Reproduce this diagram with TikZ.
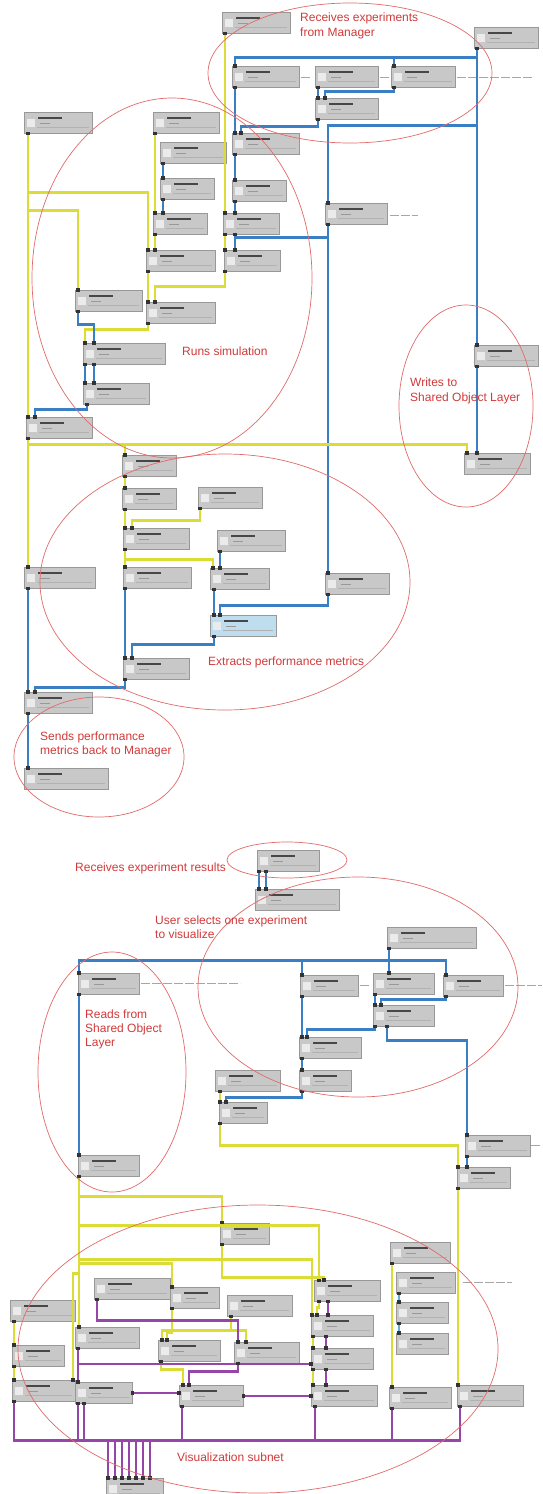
\documentclass[tikz,border=0pt]{standalone}
\usepackage{fontspec}
\setmainfont{Liberation Sans}
\usetikzlibrary{arrows.meta}
\definecolor{wblue}{HTML}{3A7FC4}
\definecolor{wyel}{HTML}{DCDC36}
\definecolor{wpur}{HTML}{9646A8}
\definecolor{wlb}{HTML}{5AB2E4}
\definecolor{annred}{HTML}{D23A3A}
\definecolor{ellred}{HTML}{E26A6A}
\definecolor{modfill}{HTML}{C8C8C8}
\definecolor{modline}{HTML}{989898}
\definecolor{selfill}{HTML}{BEDDEE}
\begin{document}
\begin{tikzpicture}[x=1pt,y=-1pt,
 mod/.style={draw=modline, fill=modfill, line width=0.6pt, minimum height=21pt, inner sep=0pt, anchor=north west,
   path picture={
     \fill[black!72] ([xshift=14pt,yshift=-4.5pt]path picture bounding box.north west) rectangle ++(24pt,-2.2pt);
     \fill[black!40] ([xshift=16pt,yshift=-10.5pt]path picture bounding box.north west) rectangle ++(10pt,-1.6pt);
     \fill[black!8] ([xshift=3pt,yshift=-7pt]path picture bounding box.north west) rectangle ++(8pt,-8pt);
     \draw[black!30,line width=0.4pt] ([xshift=13pt,yshift=-14.5pt]path picture bounding box.north west) -- ([xshift=-3pt,yshift=-14.5pt]path picture bounding box.north east);
   }},
 sel/.style={mod, fill=selfill},
 wire/.style={line width=2.3pt, {Square[length=3.4pt,width=3.8pt,color=black!80]}-{Square[length=3.4pt,width=3.8pt,color=black!80]}, shorten <=-1.7pt, shorten >=-1.7pt},
 bw/.style={wire, draw=wblue},
 yw/.style={wire, draw=wyel},
 pw/.style={wire, draw=wpur},
 lw/.style={wire, draw=wlb},
 ann/.style={text=annred, font=\fontsize{12}{14}\selectfont, inner sep=0pt, anchor=base west},
 ell/.style={draw=ellred, line width=0.7pt},
 lbl/.style={draw=black!35, line width=0.9pt, dash pattern=on 9pt off 2pt},
]
\useasboundingbox (0,0) rectangle (542,1494);
\fill[white] (0,0) rectangle (542,1494);

% ---------------- top network: modules
\node[mod, minimum width=68pt] (A) at (222,12) {};
\node[mod, minimum width=64pt] (B) at (474,27) {};
\node[mod, minimum width=67pt] (C) at (232,66) {};
\node[mod, minimum width=63pt] (D) at (315,66) {};
\node[mod, minimum width=64pt] (E) at (391,66) {};
\node[mod, minimum width=63pt] (F) at (315,98) {};
\node[mod, minimum width=67pt] (G) at (232,133) {};
\node[mod, minimum width=54pt] (H) at (232,180) {};
\node[mod, minimum width=56pt] (I) at (223,213) {};
\node[mod, minimum width=62pt] (J) at (325,203) {};
\node[mod, minimum width=66pt] (K) at (153,112) {};
\node[mod, minimum width=66pt] (L) at (160,142) {};
\node[mod, minimum width=54pt] (M) at (160,178) {};
\node[mod, minimum width=54pt] (N) at (153,213) {};
\node[mod, minimum width=68pt] (O) at (24,112) {};
\node[mod, minimum width=69pt] (P) at (146,250) {};
\node[mod, minimum width=56pt] (Q) at (224,250) {};
\node[mod, minimum width=67pt] (R) at (75,290) {};
\node[mod, minimum width=69pt] (S) at (146,302) {};
\node[mod, minimum width=82pt] (T) at (83,343) {};
\node[mod, minimum width=66pt] (U) at (83,383) {};
\node[mod, minimum width=66pt] (V) at (26,417) {};
\node[mod, minimum width=64pt] (W) at (474,345) {};
\node[mod, minimum width=66pt] (X) at (464,453) {};
\node[mod, minimum width=54pt] (Y) at (122,455) {};
\node[mod, minimum width=54pt] (Y2) at (122,488) {};
\node[mod, minimum width=64pt] (Z) at (198,487) {};
\node[mod, minimum width=66pt] (BB) at (123,528) {};
\node[mod, minimum width=68pt] (CC) at (217,530) {};
\node[mod, minimum width=71pt] (DD) at (24,567) {};
\node[mod, minimum width=68pt] (EE) at (123,567) {};
\node[mod, minimum width=59pt] (FF) at (210,568) {};
\node[mod, minimum width=64pt] (GG) at (325,573) {};
\node[sel, minimum width=66pt] (HH) at (210,615) {};
\node[mod, minimum width=66pt] (II) at (123,658) {};
\node[mod, minimum width=68pt] (JJ) at (24,692) {};
\node[mod, minimum width=84pt] (KK) at (24,768) {};

% small side labels (top)
\draw[lbl] (301,77) -- (312,77);
\draw[lbl] (380,77) -- (389,77);
\draw[lbl] (457,77) -- (533,77);
\draw[lbl] (390,215) -- (418,215);

% ---------------- top network: connections
\draw[yw] ([xshift=4pt]O.south west) -- ([xshift=2pt]V.north west);
\draw[yw] ([xshift=4pt]O.south west) -- ++(0,59) -| ([xshift=2pt]P.north west);
\draw[yw] ([xshift=4pt]O.south west) -- ++(0,77) -| ([xshift=3pt]R.north west);
\draw[yw] ([xshift=2pt]K.south west) -- ([xshift=2pt]N.north west);
\draw[yw] ([xshift=2pt]N.south west) -- ([xshift=9pt]P.north west);
\draw[bw] ([xshift=3pt]L.south west) -- ([xshift=3pt]M.north west);
\draw[bw] ([xshift=3pt]M.south west) -- ([xshift=10pt]N.north west);
\draw[yw] ([xshift=3pt]A.south west) -- ([xshift=2pt]I.north west);
\draw[bw] ([xshift=3pt]B.south west) -- ++(0,9) -| ([xshift=3pt]C.north west);
\draw[bw] ([xshift=3pt]B.south west) -- ++(0,9) -| ([xshift=3pt]E.north west);
\draw[bw] ([xshift=3pt]B.south west) -- ([xshift=3pt]W.north west);
\draw[bw] ([xshift=3pt]B.south west) -- ++(0,77) -| ([xshift=3pt]J.north west);
\draw[bw] ([xshift=3pt]W.south west) -- ([xshift=13pt]X.north west);
\draw[bw] ([xshift=3pt]D.south west) -- ([xshift=3pt]F.north west);
\draw[bw] ([xshift=3pt]E.south west) -- ++(0,4) -| ([xshift=10pt]F.north west);
\draw[bw] ([xshift=3pt]F.south west) -- ++(0,7) -| ([xshift=9pt]G.north west);
\draw[bw] ([xshift=3pt]C.south west) -- ([xshift=3pt]G.north west);
\draw[bw] ([xshift=3pt]G.south west) -- ([xshift=3pt]H.north west);
\draw[bw] ([xshift=3pt]H.south west) -- ([xshift=12pt]I.north west);
\draw[bw] ([xshift=12pt]I.south west) -- ([xshift=11pt]Q.north west);
\draw[yw] ([xshift=2pt]I.south west) -- ([xshift=1pt]Q.north west);
\draw[bw] ([xshift=3pt]J.south west) -- ([xshift=3pt]GG.north west);
\draw[bw] ([xshift=3pt]J.south west) -- ++(0,13) -| ([xshift=11pt]Q.north west);
\draw[yw] ([xshift=2pt]P.south west) -- ([xshift=2pt]S.north west);
\draw[yw] ([xshift=1pt]Q.south west) -- ++(0,15) -| ([xshift=9pt]S.north west);
\draw[yw] ([xshift=2pt]S.south west) -- ++(0,6) -| ([xshift=2pt]T.north west);
\draw[bw] ([xshift=3pt]R.south west) -- ++(0,13) -| ([xshift=11pt]T.north west);
\draw[bw] ([xshift=2pt]T.south west) -- ([xshift=2pt]U.north west);
\draw[bw] ([xshift=11pt]T.south west) -- ([xshift=11pt]U.north west);
\draw[bw] ([xshift=4pt]U.south west) -- ++(0,5) -| ([xshift=9pt]V.north west);
\draw[yw] ([xshift=2pt]V.south west) -- ++(0,6) -| ([xshift=3pt]X.north west);
\draw[yw] ([xshift=2pt]V.south west) -- ++(0,6) -| ([xshift=3pt]Y.north west);
\draw[yw] ([xshift=2pt]V.south west) -- ([xshift=4pt]DD.north west);
\draw[yw] ([xshift=3pt]Y.south west) -- ([xshift=3pt]Y2.north west);
\draw[yw] ([xshift=3pt]Y2.south west) -- ([xshift=2pt]BB.north west);
\draw[yw] ([xshift=2pt]Z.south west) -- ++(0,12) -| ([xshift=9pt]BB.north west);
\draw[yw] ([xshift=2pt]BB.south west) -- ([xshift=2pt]EE.north west);
\draw[yw] ([xshift=2pt]BB.south west) -- ++(0,10) -| ([xshift=3pt]FF.north west);
\draw[bw] ([xshift=3pt]CC.south west) -- ([xshift=10pt]FF.north west);
\draw[bw] ([xshift=4pt]FF.south west) -- ([xshift=4pt]HH.north west);
\draw[bw] ([xshift=3pt]GG.south west) -- ++(0,11) -| ([xshift=10pt]HH.north west);
\draw[bw] ([xshift=4pt]HH.south west) -- ++(0,8) -| ([xshift=9pt]II.north west);
\draw[bw] ([xshift=2pt]EE.south west) -- ([xshift=2pt]II.north west);
\draw[bw] ([xshift=2pt]II.south west) -- ++(0,8) -| ([xshift=11pt]JJ.north west);
\draw[bw] ([xshift=4pt]DD.south west) -- ([xshift=4pt]JJ.north west);
\draw[bw] ([xshift=4pt]JJ.south west) -- ([xshift=4pt]KK.north west);

% ---------------- bottom network: modules
\node[mod, minimum width=62pt] (LL) at (257,850) {};
\node[mod, minimum width=84pt] (MM) at (255,889) {};
\node[mod, minimum width=89pt] (NN) at (387,927) {};
\node[mod, minimum width=61pt] (OO) at (78,973) {};
\node[mod, minimum width=58pt] (PP) at (300,975) {};
\node[mod, minimum width=61pt] (QQ) at (373,973) {};
\node[mod, minimum width=60pt] (RR) at (443,975) {};
\node[mod, minimum width=61pt] (SS) at (373,1005) {};
\node[mod, minimum width=62pt] (TT) at (299,1037) {};
\node[mod, minimum width=52pt] (VV) at (299,1070) {};
\node[mod, minimum width=65pt] (WW) at (215,1070) {};
\node[mod, minimum width=48pt] (XX) at (219,1102) {};
\node[mod, minimum width=65pt] (UU) at (465,1135) {};
\node[mod, minimum width=53pt] (ZZ) at (457,1167) {};
\node[mod, minimum width=61pt] (AAA) at (78,1155) {};
\node[mod, minimum width=49pt] (BBB) at (220,1223) {};
\node[mod, minimum width=60pt] (CCC) at (390,1242) {};
\node[mod, minimum width=76pt] (DDD) at (94,1278) {};
\node[mod, minimum width=49pt] (EEE) at (170,1287) {};
\node[mod, minimum width=65pt] (FFF) at (227,1295) {};
\node[mod, minimum width=66pt] (GGG) at (314,1280) {};
\node[mod, minimum width=59pt] (HHH) at (396,1272) {};
\node[mod, minimum width=65pt] (III) at (10,1300) {};
\node[mod, minimum width=64pt] (JJJ) at (75,1327) {};
\node[mod, minimum width=62pt] (KKK) at (311,1315) {};
\node[mod, minimum width=52pt] (LLL) at (396,1302) {};
\node[mod, minimum width=52pt] (MMM) at (12,1345) {};
\node[mod, minimum width=62pt] (NNN) at (158,1340) {};
\node[mod, minimum width=65pt] (OOO) at (234,1342) {};
\node[mod, minimum width=62pt] (PPP) at (311,1348) {};
\node[mod, minimum width=52pt] (QQQ) at (396,1333) {};
\node[mod, minimum width=63pt] (RRR) at (12,1380) {};
\node[mod, minimum width=57pt] (SSS) at (75,1382) {};
\node[mod, minimum width=64pt] (TTT) at (179,1385) {};
\node[mod, minimum width=66pt] (UUU) at (311,1385) {};
\node[mod, minimum width=62pt] (VVV) at (389,1387) {};
\node[mod, minimum width=66pt] (WWW) at (457,1385) {};
\node[mod, minimum width=57pt, minimum height=16pt] (XXX) at (106,1478) {};

% small side labels (bottom)
\draw[lbl] (141,983) -- (240,983);
\draw[lbl] (360,985) -- (369,985);
\draw[lbl] (505,985) -- (542,985);
\draw[lbl] (531,1145) -- (542,1145);
\draw[lbl] (463,1282) -- (512,1282);

% ---------------- bottom network: connections
\draw[bw] ([xshift=2pt]LL.south west) -- ([xshift=4pt]MM.north west);
\draw[bw] ([xshift=9pt]LL.south west) -- ([xshift=11pt]MM.north west);
\draw[bw] ([xshift=2pt]NN.south west) -- ([xshift=16pt]QQ.north west);
\draw[bw] ([xshift=2pt]NN.south west) -- ++(0,12) -| ([xshift=1pt]OO.north west);
\draw[bw] ([xshift=2pt]NN.south west) -- ++(0,12) -| ([xshift=2pt]PP.north west);
\draw[bw] ([xshift=2pt]NN.south west) -- ++(0,12) -| ([xshift=3pt]RR.north west);
\draw[bw] ([xshift=2pt]QQ.south west) -- ([xshift=2pt]SS.north west);
\draw[bw] ([xshift=3pt]RR.south west) -- ++(0,3) -| ([xshift=8pt]SS.north west);
\draw[bw] ([xshift=2pt]PP.south west) -- ([xshift=3pt]TT.north west);
\draw[bw] ([xshift=2pt]SS.south west) -- ++(0,3) -| ([xshift=8pt]TT.north west);
\draw[bw] ([xshift=14pt]SS.south west) -- ++(0,14) -| ([xshift=2pt]UU.north west);
\draw[bw] ([xshift=3pt]TT.south west) -- ([xshift=3pt]VV.north west);
\draw[bw] ([xshift=3pt]VV.south west) -- ++(0,6) -| ([xshift=7pt]XX.north west);
\draw[yw] ([xshift=5pt]WW.south west) -- ([xshift=1pt]XX.north west);
\draw[yw] ([xshift=1pt]XX.south west) -- ++(0,22) -| ([xshift=1pt]ZZ.north west);
\draw[bw] ([xshift=2pt]UU.south west) -- ([xshift=10pt]ZZ.north west);
\draw[bw] ([xshift=1pt]OO.south west) -- ([xshift=1pt]AAA.north west);

\draw[yw] ([xshift=1pt]AAA.south west) -- ++(0,20) -| ([xshift=2pt]BBB.north west);
\draw[yw] ([xshift=1pt]AAA.south west) -- ++(0,49) -| ([xshift=5pt]GGG.north west);
\draw[yw] ([xshift=1pt]AAA.south west) -- ++(0,83) -| ([xshift=1pt]KKK.north west);
\draw[yw] ([xshift=1pt]AAA.south west) -- ++(0,87) -| ([xshift=2pt]EEE.north west);
\draw[yw] ([xshift=1pt]AAA.south west) -- ([xshift=4pt]JJJ.north west);
\draw[yw] ([xshift=1pt]AAA.south west) -- ++(0,97) -| ([xshift=61pt]RRR.north west);
\draw[yw] ([xshift=2pt]BBB.south west) -- ++(0,33) -| ([xshift=10pt]GGG.north west);
\draw[yw] ([xshift=5pt]GGG.south west) -- ++(0,6) -| ([xshift=6pt]KKK.north west);
\draw[yw] ([xshift=2pt]KKK.south west) -- ([xshift=2pt]PPP.north west);
\draw[yw] ([xshift=2pt]PPP.south west) -- ([xshift=2pt]UUU.north west);
\draw[yw] ([xshift=2pt]EEE.south west) -- ++(0,24) -| ([xshift=9pt]NNN.north west);
\draw[yw] ([xshift=4pt]FFF.south west) -- ++(0,14) -| ([xshift=4pt]NNN.north west);
\draw[yw] ([xshift=4pt]FFF.south west) -- ++(0,14) -| ([xshift=12pt]OOO.north west);
\draw[yw] ([xshift=3pt]NNN.south west) -- ++(0,8) -| ([xshift=4pt]TTT.north west);
\draw[yw] ([xshift=4pt]III.south west) -- ([xshift=2pt]MMM.north west);
\draw[yw] ([xshift=2pt]MMM.south west) -- ([xshift=2pt]RRR.north west);
\draw[yw] ([xshift=2pt]CCC.south west) -- ([xshift=3pt]VVV.north west);
\draw[yw] ([xshift=1pt]ZZ.south west) -- ([xshift=1pt]WWW.north west);
\draw[lw] ([xshift=3pt]HHH.south west) -- ([xshift=3pt]LLL.north west);
\draw[lw] ([xshift=3pt]LLL.south west) -- ([xshift=3pt]QQQ.north west);

\draw[pw] ([xshift=3pt]DDD.south west) -- ++(0,21) -| ([xshift=4pt]OOO.north west);
\draw[pw] ([xshift=3pt]JJJ.south west) -- ([xshift=3pt]SSS.north west);
\draw[pw] ([xshift=3pt]JJJ.south west) |- ([yshift=-5pt]PPP.west);
\draw[pw] ([xshift=4pt]OOO.south west) -- ++(0,8) -| ([xshift=10pt]TTT.north west);
\draw[pw] ([xshift=14pt]GGG.south west) -- ([xshift=17pt]KKK.north west);
\draw[pw] ([xshift=15pt]KKK.south west) -- ([xshift=15pt]PPP.north west);
\draw[pw] ([xshift=15pt]PPP.south west) -- ([xshift=15pt]UUU.north west);
\draw[pw] (SSS.east) -- (SSS.east -| TTT.west);
\draw[pw] (TTT.east) -- (TTT.east -| UUU.west);
\draw[pw] ([xshift=2pt]RRR.south west) -- ++(0,39) -| ([xshift=2pt]XXX.north west);
\draw[pw] ([xshift=3pt]SSS.south west) -- ++(0,37) -| ([xshift=9pt]XXX.north west);
\draw[pw] ([xshift=3pt]TTT.south west) -- ++(0,34) -| ([xshift=16pt]XXX.north west);
\draw[pw] ([xshift=4pt]UUU.south west) -- ++(0,34) -| ([xshift=23pt]XXX.north west);
\draw[pw] ([xshift=3pt]VVV.south west) -- ++(0,32) -| ([xshift=30pt]XXX.north west);
\draw[pw] ([xshift=3pt]WWW.south west) -- ++(0,34) -| ([xshift=37pt]XXX.north west);
\draw[pw] ([xshift=9pt]SSS.south west) -- ++(0,37) -| ([xshift=44pt]XXX.north west);

% ---------------- annotation ellipses
\draw[ell] (350,73) ellipse [x radius=142pt, y radius=70pt];
\draw[ell] (172,278) ellipse [x radius=140pt, y radius=180pt];
\draw[ell] (466,406) ellipse [x radius=67pt, y radius=101pt];
\draw[ell] (225,582) ellipse [x radius=185pt, y radius=128pt];
\draw[ell] (99,757) ellipse [x radius=85pt, y radius=60pt];
\draw[ell] (287,860) ellipse [x radius=60pt, y radius=18pt];
\draw[ell] (358,987) ellipse [x radius=160pt, y radius=110pt];
\draw[ell] (112,1072) ellipse [x radius=74pt, y radius=120pt];
\draw[ell] (258,1349) ellipse [x radius=240pt, y radius=144pt];

% ---------------- annotation texts
\node[ann] (t1a) at (300,21) {Receives experiments};
\node[ann] (t1b) at (300,36) {from Manager};
\node[ann] (t2) at (182,355) {Runs simulation};
\node[ann] (t3a) at (410,386) {Writes to};
\node[ann] (t3b) at (410,401) {Shared Object Layer};
\node[ann] (t4) at (208,665) {Extracts performance metrics};
\node[ann] (t5a) at (40,740) {Sends performance};
\node[ann] (t5b) at (40,754) {metrics back to Manager};
\node[ann] (t6) at (75,871) {Receives experiment results};
\node[ann] (t7a) at (155,924) {User selects one experiment};
\node[ann] (t7b) at (155,938) {to visualize};
\node[ann] (t8a) at (85,1018) {Reads from};
\node[ann] (t8b) at (85,1032) {Shared Object};
\node[ann] (t8c) at (85,1046) {Layer};
\node[ann] (t9) at (177,1461) {Visualization subnet};
\end{tikzpicture}
\end{document}
